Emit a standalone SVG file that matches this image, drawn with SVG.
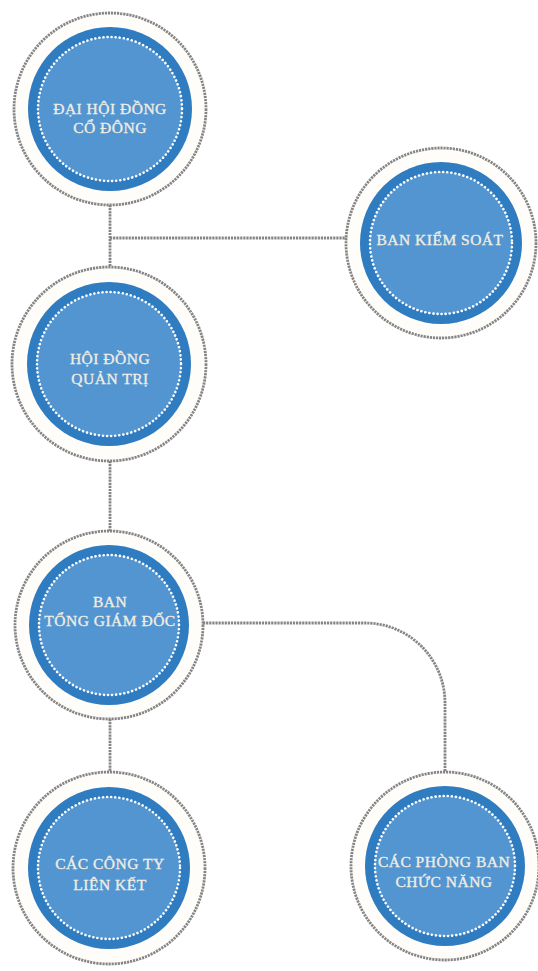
<svg xmlns="http://www.w3.org/2000/svg" width="538" height="971" viewBox="0 0 538 971">
<style>
.ring{fill:#fefdf9;stroke:#858585;stroke-width:2.8;stroke-dasharray:2.2 0.9}
.blue{fill:#2f7cc0}
.inner{fill:#5295d1;stroke:#ffffff;stroke-width:2.6;stroke-dasharray:0.1 4;stroke-linecap:round}
.lbl{font-family:"Liberation Serif","Times New Roman",serif;font-size:15.5px;letter-spacing:0.5px;fill:#f1ede2;stroke:#f1ede2;stroke-width:0.35;text-anchor:middle}
.conn{fill:none;stroke:#858585;stroke-width:2.8;stroke-dasharray:2.2 0.9}
</style>
<rect width="538" height="971" fill="#ffffff"/>
<g id="connectors">
<path class="conn" d="M110 205 V266"/>
<path class="conn" d="M110 238 H347"/>
<path class="conn" d="M110 461 V531"/>
<path class="conn" d="M203 623 H365 A80 80 0 0 1 445 703 V772"/>
<path class="conn" d="M110 719 V772"/>
</g>
<g id="n1">
<circle class="ring" cx="110" cy="109" r="96"/>
<circle class="blue" cx="110" cy="109" r="82"/>
<circle class="inner" cx="110" cy="109" r="72"/>
<text class="lbl" x="110" y="114">ĐẠI HỘI ĐỒNG</text>
<text class="lbl" x="110" y="133">CỔ ĐÔNG</text>
</g>
<g id="n2">
<circle class="ring" cx="441" cy="243" r="95"/>
<circle class="blue" cx="441" cy="243" r="81"/>
<circle class="inner" cx="441" cy="243" r="71"/>
<text class="lbl" x="440" y="245">BAN KIỂM SOÁT</text>
</g>
<g id="n3">
<circle class="ring" cx="109" cy="364" r="97"/>
<circle class="blue" cx="109" cy="364" r="82"/>
<circle class="inner" cx="109" cy="364" r="72"/>
<text class="lbl" x="110" y="364">HỘI ĐỒNG</text>
<text class="lbl" x="110" y="384">QUẢN TRỊ</text>
</g>
<g id="n4">
<circle class="ring" cx="109" cy="625" r="94"/>
<circle class="blue" cx="109" cy="625" r="80"/>
<circle class="inner" cx="109" cy="625" r="70"/>
<text class="lbl" x="110" y="607">BAN</text>
<text class="lbl" x="110" y="626">TỔNG GIÁM ĐỐC</text>
</g>
<g id="n5">
<circle class="ring" cx="109" cy="868" r="96"/>
<circle class="blue" cx="109" cy="868" r="81"/>
<circle class="inner" cx="109" cy="868" r="71"/>
<text class="lbl" x="110" y="869">CÁC CÔNG TY</text>
<text class="lbl" x="110" y="890">LIÊN KẾT</text>
</g>
<g id="n6">
<circle class="ring" cx="445" cy="866" r="94"/>
<circle class="blue" cx="445" cy="866" r="80"/>
<circle class="inner" cx="445" cy="866" r="70"/>
<text class="lbl" x="444" y="867">CÁC PHÒNG BAN</text>
<text class="lbl" x="444" y="887">CHỨC NĂNG</text>
</g>
</svg>
